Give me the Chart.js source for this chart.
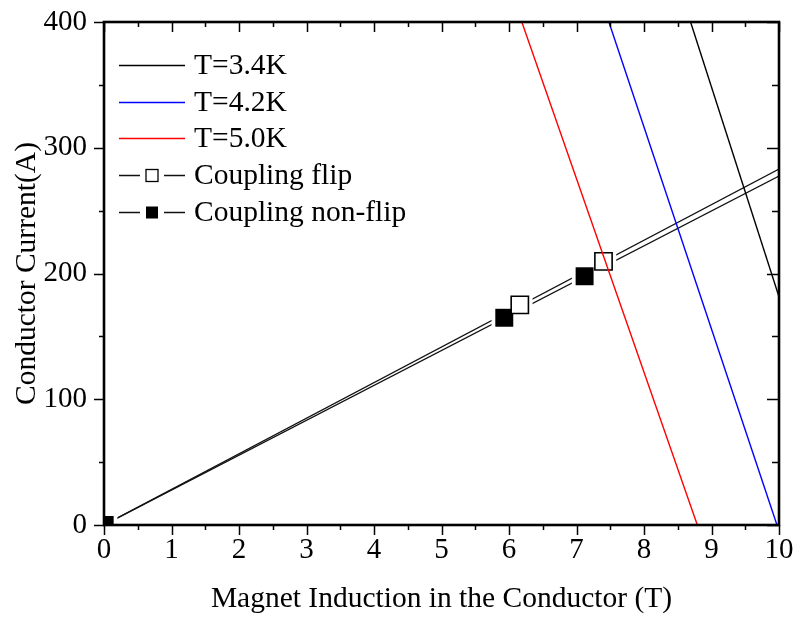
<!DOCTYPE html>
<html><head><meta charset="utf-8">
<script src="https://cdn.jsdelivr.net/npm/chart.js@4/dist/chart.umd.min.js"></script>
<style>html,body{margin:0;padding:0;background:#fff}#wrap{width:797px;height:623px}</style>
</head><body><div id="wrap"><canvas id="c" width="797" height="623"></canvas></div>
<script>
// ---- data ----
const xTickValues = [0,1,2,3,4,5,6,7,8,9,10];
const yTickValues = [0,100,200,300,400];
const seriesNames = ['T=3.4K','T=4.2K','T=5.0K','Coupling flip','Coupling non-flip'];
const t34Field = [8.69, 10];   const t34Current = [400, 181.5];
const t42Field = [7.48, 9.97]; const t42Current = [400, 0];
const t50Field = [6.19, 8.79]; const t50Current = [400, 0];
const flipLineField = [0, 10];    const flipLineCurrent = [0, 283];
const nonflipLineField = [0, 10]; const nonflipLineCurrent = [0, 277.5];
const flipPointField = [6.16, 7.40];          const flipPointCurrent = [175, 209.7];
const nonflipPointField = [0.01, 5.93, 7.12]; const nonflipPointCurrent = [0, 164.8, 197.8];

const FONT = '"Liberation Serif", "Times New Roman", serif';
const pts = (xs, ys) => xs.map((x, i) => ({x, y: ys[i]}));

const lineDs = (label, xs, ys, color, order) => ({
  label, data: pts(xs, ys), borderColor: color, backgroundColor: color,
  borderWidth: 1.4, pointRadius: 0, showLine: true, order, legendKind: 'line'
});

const datasets = [
  lineDs(seriesNames[0], t34Field, t34Current, '#000000', 1),
  lineDs(seriesNames[1], t42Field, t42Current, '#0000ff', 1),
  lineDs(seriesNames[2], t50Field, t50Current, '#ff0000', 1),
  { label: seriesNames[3], data: pts(flipLineField, flipLineCurrent), borderColor: '#111', borderWidth: 1.3,
    pointRadius: 0, showLine: true, order: 6, legendKind: 'open' },
  { label: seriesNames[4], data: pts(nonflipLineField, nonflipLineCurrent), borderColor: '#111', borderWidth: 1.3,
    pointRadius: 0, showLine: true, order: 6, legendKind: 'filled' },
  // white gaps around markers (as in the original plot)
  { label: 'gap', data: pts(flipPointField.concat(nonflipPointField), flipPointCurrent.concat(nonflipPointCurrent)),
    showLine: false, pointStyle: 'rect', pointRadius: 18, pointBackgroundColor: '#fff', pointBorderWidth: 0,
    pointBorderColor: '#fff', order: 5, clip: 0, legendKind: null },
  { label: 'flip markers', data: pts(flipPointField, flipPointCurrent), showLine: false, pointStyle: 'rect',
    pointRadius: 12.2, pointBackgroundColor: '#fff', pointBorderColor: '#000', pointBorderWidth: 1.6, order: 3, clip: 0, legendKind: null },
  { label: 'non-flip markers', data: pts(nonflipPointField, nonflipPointCurrent), showLine: false, pointStyle: 'rect',
    pointRadius: 12.7, pointBackgroundColor: '#000', pointBorderColor: '#000', pointBorderWidth: 0, order: 3, clip: 0, legendKind: null }
];

const framePlugin = {
  id: 'frame',
  afterDatasetsDraw(chart) {
    const {ctx, chartArea: a, scales: {x, y}} = chart;
    ctx.save();
    ctx.strokeStyle = '#000';
    ctx.lineWidth = 1.5;
    ctx.beginPath();
    for (let v = 0; v <= 10.001; v += 0.5) {
      const px = Math.round(x.getPixelForValue(v)) + 0.5;
      const len = Math.abs(v - Math.round(v)) < 1e-6 ? 10 : 5;
      ctx.moveTo(px, a.bottom); ctx.lineTo(px, a.bottom + len);
      ctx.moveTo(px, a.top); ctx.lineTo(px, a.top + len);
    }
    for (let v = 0; v <= 400.001; v += 50) {
      const py = Math.round(y.getPixelForValue(v)) + 0.5;
      const len = (v % 100 === 0) ? 10 : 5;
      ctx.moveTo(a.left, py); ctx.lineTo(a.left - len, py);
      ctx.moveTo(a.right, py); ctx.lineTo(a.right - len - 2, py);
    }
    ctx.stroke();
    ctx.lineWidth = 2.6;
    ctx.strokeRect(a.left, a.top, a.right - a.left, a.bottom - a.top);

    // legend
    const items = chart.data.datasets.filter(d => d.legendKind);
    const x0 = 119, x1 = 185, textX = 194, y0 = 65, dy = 36.7;
    ctx.font = '29.5px ' + FONT;
    ctx.textBaseline = 'middle';
    ctx.fillStyle = '#000';
    items.forEach((d, i) => {
      const yy = Math.round(y0 + i * dy) + 0.5;
      ctx.lineWidth = 1.4;
      ctx.strokeStyle = d.borderColor;
      ctx.beginPath();
      if (d.legendKind === 'line') {
        ctx.moveTo(x0, yy); ctx.lineTo(x1, yy);
        ctx.stroke();
      } else {
        ctx.moveTo(x0, yy); ctx.lineTo(x0 + 21, yy);
        ctx.moveTo(x1 - 21, yy); ctx.lineTo(x1, yy);
        ctx.stroke();
        const s = 12;
        const cx = (x0 + x1) / 2;
        if (d.legendKind === 'filled') {
          ctx.fillStyle = '#000';
          ctx.fillRect(cx - s / 2, yy - s / 2, s, s);
        } else {
          ctx.strokeStyle = '#000';
          ctx.lineWidth = 1.3;
          ctx.strokeRect(cx - s / 2, yy - s / 2, s, s);
        }
      }
      ctx.fillStyle = '#000';
      ctx.fillText(d.label, textX, yy + 1);
    });
    ctx.restore();
  }
};

new Chart(document.getElementById('c'), {
  type: 'scatter',
  data: { datasets },
  options: {
    responsive: false,
    devicePixelRatio: 1,
    animation: false,
    layout: { padding: { top: 22, right: 18, left: 0, bottom: 0 } },
    plugins: { legend: { display: false }, tooltip: { enabled: false } },
    scales: {
      x: {
        type: 'linear', position: 'bottom', min: 0, max: 10,
        afterBuildTicks: s => { s.ticks = xTickValues.map(v => ({value: v})); },
        ticks: { color: '#000', font: { family: FONT, size: 29 }, padding: 8, maxRotation: 0, autoSkip: false },
        grid: { display: false, drawTicks: false }, border: { display: false },
        title: { display: true, text: 'Magnet Induction in the Conductor (T)', color: '#000',
                 font: { family: FONT, size: 29.5 }, padding: { top: 0, bottom: 6 } },
        afterFit: s => { s.height = 98; s.paddingLeft = 0; s.paddingRight = 0; }
      },
      y: {
        type: 'linear', position: 'left', min: 0, max: 400,
        afterBuildTicks: s => { s.ticks = yTickValues.map(v => ({value: v})); },
        ticks: { color: '#000', font: { family: FONT, size: 29 }, padding: 17 },
        grid: { display: false, drawTicks: false }, border: { display: false },
        title: { display: true, text: 'Conductor Current(A)', color: '#000',
                 font: { family: FONT, size: 29.5 }, padding: { top: 10, bottom: 0 } },
        afterFit: s => { s.width = 104; s.paddingTop = 0; s.paddingBottom = 0; }
      }
    }
  },
  plugins: [framePlugin]
});
</script></body></html>
